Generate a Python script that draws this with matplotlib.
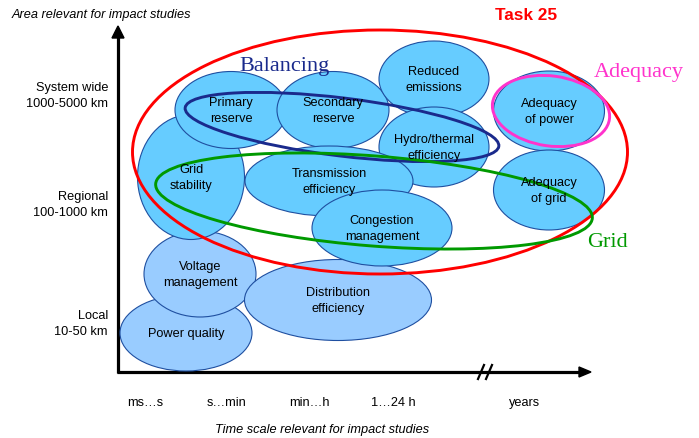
import matplotlib
matplotlib.use("Agg")
import matplotlib.pyplot as plt
from matplotlib.patches import Ellipse, FancyArrow

plt.rcParams["font.family"] = ["Liberation Sans", "DejaVu Sans"]

# topic bubbles (label, fill)
TOPICS = ["Power quality", "Voltage\nmanagement", "Grid\nstability", "Primary\nreserve",
          "Secondary\nreserve", "Reduced\nemissions", "Hydro/thermal\nefficiency",
          "Transmission\nefficiency", "Distribution\nefficiency", "Congestion\nmanagement",
          "Adequacy\nof power", "Adequacy\nof grid"]
LOCAL = {"Power quality", "Voltage\nmanagement", "Distribution\nefficiency"}
# bubble geometry in picture pixels: centre x, centre y, width, height
BX = [186, 200, 191, 231, 333, 434, 434, 329, 338, 382, 549, 549]
BY = [334, 275, 178, 111, 111, 80, 148, 182, 301, 229, 112, 191]
BW = [132, 112, 107, 112, 112, 110, 110, 168, 187, 140, 111, 111]
BH = [76, 86, 125, 77, 77, 76, 80, 70, 81, 76, 80, 80]

# groups: name, colour, ellipse (cx, cy, w, h, angle), label position
GROUPS = ["Task 25", "Balancing", "Grid", "Adequacy"]
GCOL = ["#FF0000", "#1A2A8C", "#009900", "#FF33CC"]
GELL = [(380, 153, 495, 244, 0), (342, 128, 316, 58, 7),
        (374, 202, 438, 90, 4.5), (551, 112, 118, 70, 8)]
GLAB = [(526, 15), (285, 66), (607, 243), (639, 72)]

Y_LABELS = ["System wide\n1000-5000 km", "Regional\n100-1000 km", "Local\n10-50 km"]
Y_POS = [96, 205, 324]
X_LABELS = ["ms…s", "s…min", "min…h", "1…24 h", "years"]
X_POS = [145, 227, 309, 393, 525]

fig = plt.figure(figsize=(6.99, 4.39), dpi=100)
ax = fig.add_axes([0, 0, 1, 1])
ax.set_xlim(0, 699)
ax.set_ylim(439, 0)
ax.axis("off")

FS = 9.2
edge = "#1F4FA0"
for i, lab in enumerate(TOPICS):
    fill = "#99CCFF" if lab in LOCAL else "#66CCFF"
    ax.add_patch(Ellipse((BX[i], BY[i]), BW[i], BH[i], facecolor=fill,
                         edgecolor=edge, lw=0.8, zorder=2 + i * 0.01))
    ax.text(BX[i], BY[i], lab, ha="center", va="center", fontsize=FS,
            linespacing=1.35, zorder=5)

for name, col, (cx, cy, w, h, a), (lx, ly) in zip(GROUPS, GCOL, GELL, GLAB):
    ax.add_patch(Ellipse((cx, cy), w, h, angle=a, fill=False, edgecolor=col,
                         lw=2.1, zorder=4))
    if name == "Task 25":
        ax.text(lx, ly, name, color=col, fontsize=12.4, fontweight="bold",
                ha="center", va="center", zorder=6)
    else:
        ax.text(lx, ly, name, color=col, fontsize=16, ha="center", va="center",
                family=["Liberation Serif", "DejaVu Serif"], zorder=6)

# axes with arrows
ax.plot([118, 118], [374, 36], color="black", lw=2.3, solid_capstyle="butt", zorder=1)
ax.add_patch(FancyArrow(118, 40, 0, -1, width=0, head_width=12, head_length=12,
                        length_includes_head=False, color="black", zorder=1))
ax.plot([117, 580], [373, 373], color="black", lw=2.3, solid_capstyle="butt", zorder=1)
ax.add_patch(FancyArrow(578, 373, 1, 0, width=0, head_width=10, head_length=12,
                        length_includes_head=False, color="black", zorder=1))
for bx in (481, 489):
    ax.plot([bx - 3, bx + 3], [380, 366], color="black", lw=1.6, zorder=1)

for lab, y in zip(Y_LABELS, Y_POS):
    ax.text(108, y, lab, ha="right", va="center", fontsize=FS, linespacing=1.45)
for lab, x in zip(X_LABELS, X_POS):
    ax.text(x, 403, lab, ha="center", va="center", fontsize=FS)

ax.text(12, 15, "Area relevant for impact studies", style="italic", fontsize=FS,
        ha="left", va="center")
ax.text(322, 430, "Time scale relevant for impact studies", style="italic",
        fontsize=FS, ha="center", va="center")

fig.savefig("out.png", dpi=100)
